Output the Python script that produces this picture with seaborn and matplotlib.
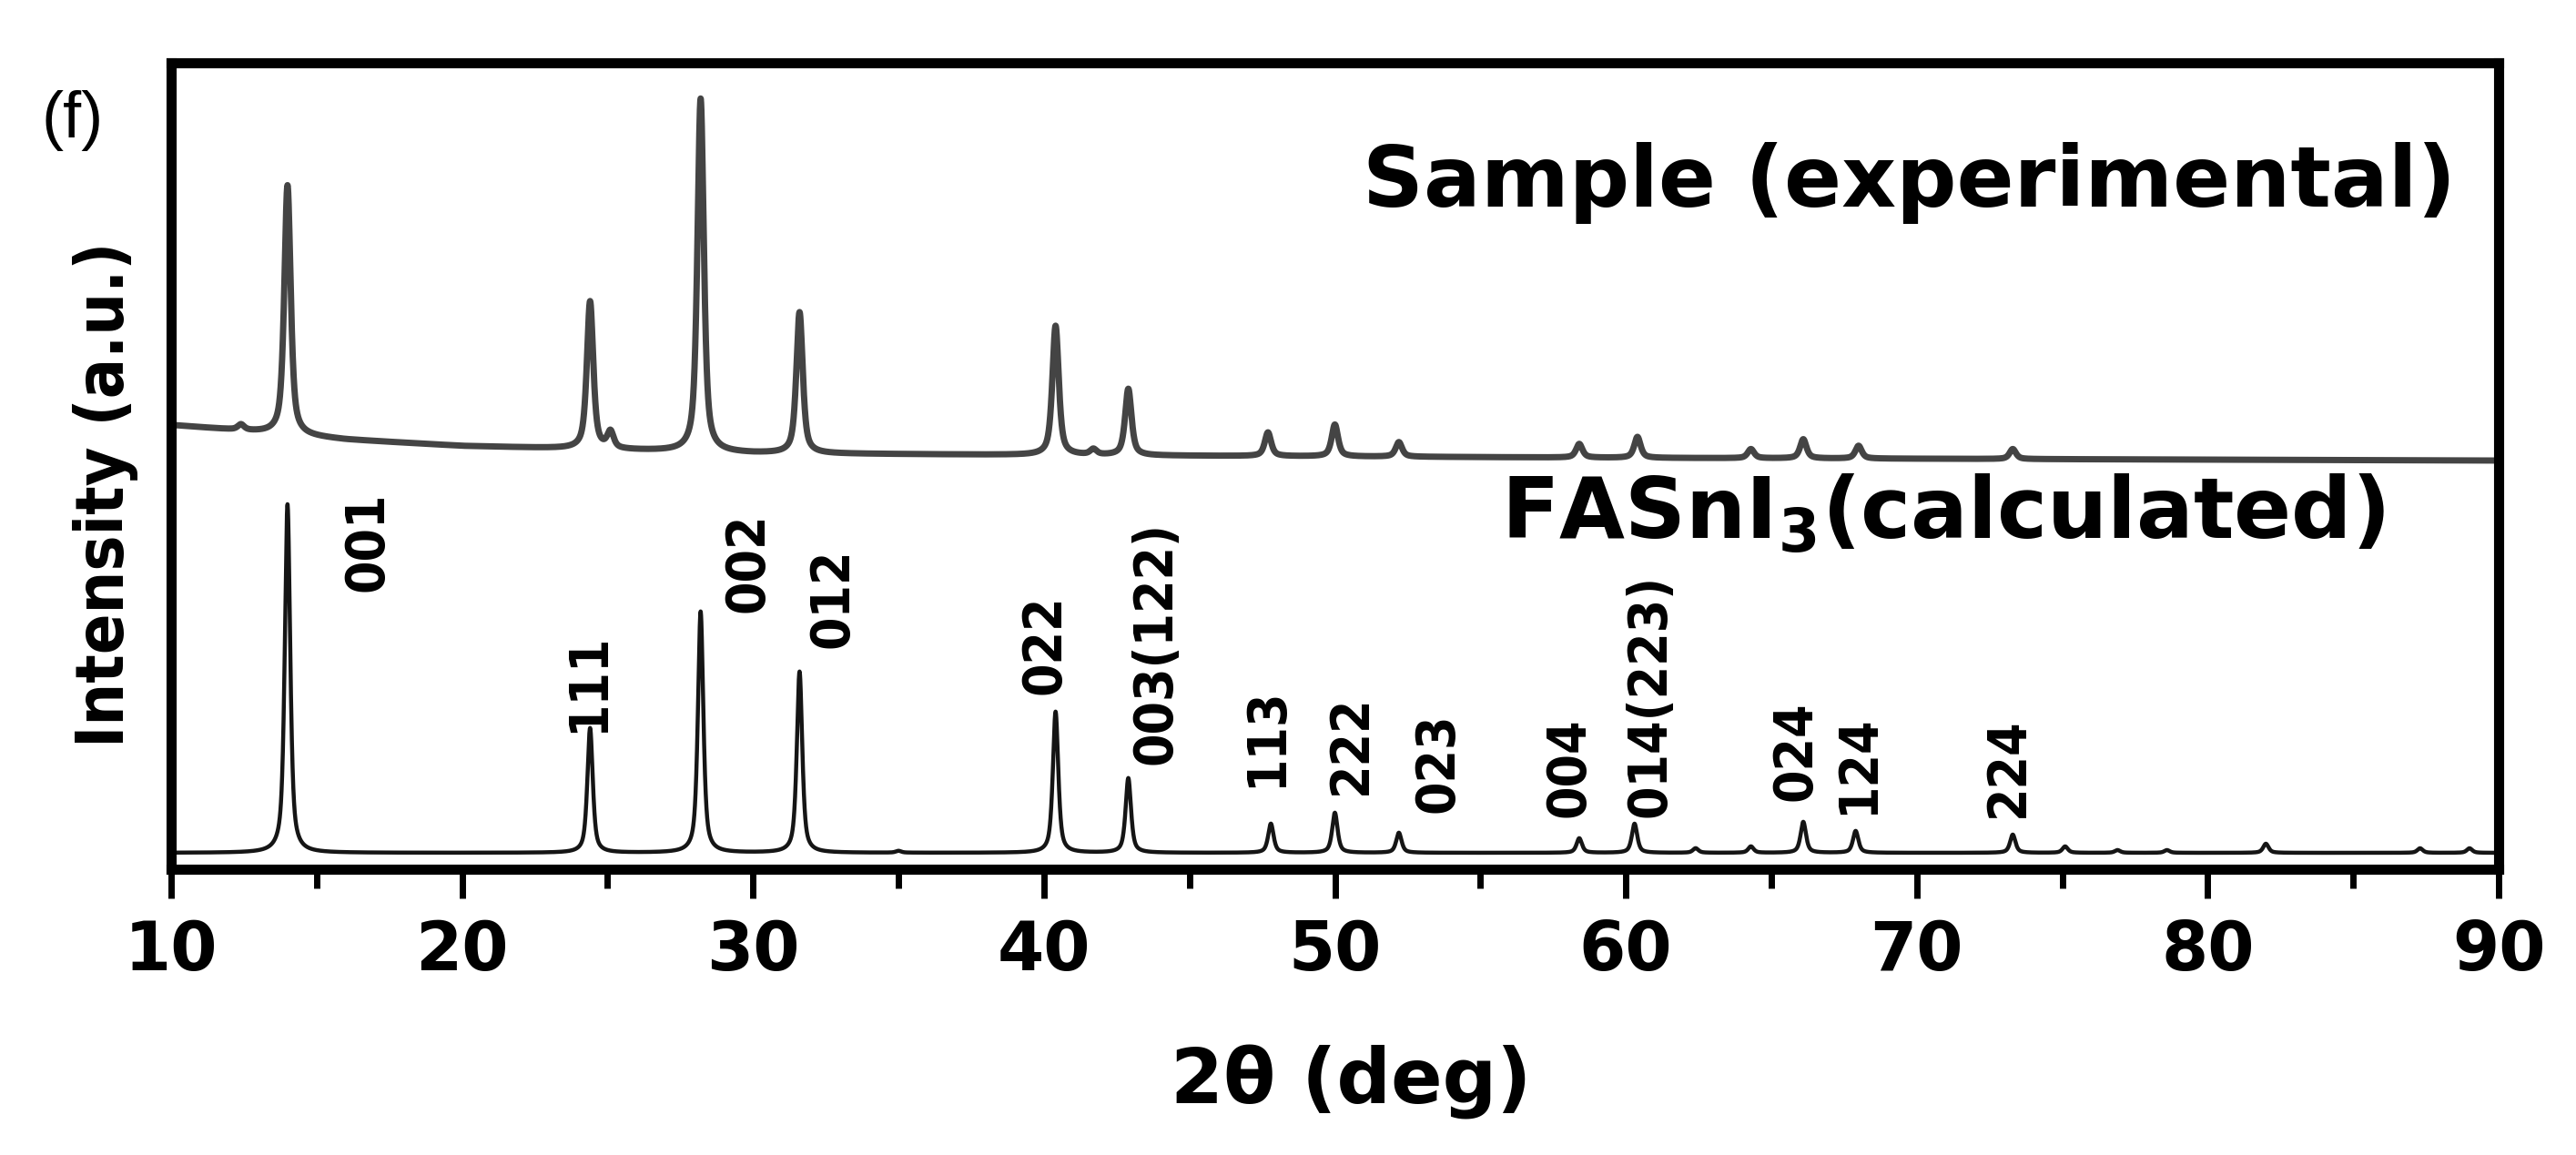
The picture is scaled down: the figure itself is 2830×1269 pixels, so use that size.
import os
import numpy as np
import pandas as pd
import seaborn as sns
import matplotlib.pyplot as plt
from matplotlib import font_manager
from matplotlib.textpath import TextPath
from matplotlib.ticker import MultipleLocator

# Calculated FASnI3 pattern: peak positions (deg), heights (a.u.)
calc_pos = [14.0, 24.4, 28.2, 31.6, 35.0, 40.4, 42.9, 47.8, 50.0, 52.2, 58.4, 60.3,
            62.4, 64.3, 66.1, 67.9, 73.3, 75.1, 76.9, 78.6, 82.0, 87.3, 89.0]
calc_height = [383, 137, 265, 199, 2, 155, 82, 32, 44, 22, 16, 32,
               5, 7, 34, 24, 20, 7, 3, 3, 10, 5, 5]
calc_baseline = 18

# Experimental sample pattern
exp_pos = [12.4, 14.0, 24.4, 25.1, 28.2, 31.6, 40.4, 41.7, 42.9, 47.7, 50.0, 52.2,
           58.4, 60.4, 64.3, 66.1, 68.0, 73.3]
exp_height = [6, 274, 162, 18, 388, 155, 142, 6, 73, 26, 35, 16,
              15, 23, 10, 21, 14, 11]
exp_bg_x = [10, 12, 16, 20, 25, 30, 40, 60, 90]
exp_bg_y = [488, 483, 472, 465, 461, 457, 455, 452, 449]

# hkl labels
hkl_labels = ['001', '111', '002', '012', '022', '003(122)', '113', '222', '023',
              '004', '014(223)', '024', '124', '224']
hkl_x = [16.5, 24.1, 29.6, 32.5, 39.8, 43.6, 47.4, 50.3, 53.3, 57.8, 60.6, 65.6, 67.75, 72.9]
hkl_y = [305, 150, 282, 243, 192, 115, 90, 82, 62, 57, 57, 75, 60, 57]

x_ticks = [10, 20, 30, 40, 50, 60, 70, 80, 90]


def pattern(x, pos, height, fwhm, eta=0.65):
    y = np.zeros_like(x)
    for p, h in zip(pos, height):
        d = (x - p) / (fwhm / 2)
        y += h * (eta / (1 + d ** 2) + (1 - eta) * np.exp(-np.log(2) * d ** 2))
    return y


def narrow_bold():
    # the rotated labels in the figure are set in a condensed bold face
    prefs = ['LiberationSansNarrow-Bold.', 'DejaVuSansCondensed-Bold.',
             'NotoSans-CondensedBold.', 'RobotoCondensed-Bold.', 'OpenSans-CondensedBold.']
    files = [f.fname for f in font_manager.fontManager.ttflist]
    for p in prefs:
        for fn in files:
            if os.path.basename(fn).startswith(p):
                return font_manager.FontProperties(fname=fn)
    return font_manager.FontProperties(family='Liberation Sans', weight='bold')


def fit_size(text, prop, length_px):
    w = TextPath((0, 0), text, size=100, prop=prop).get_extents().width
    return 100 * length_px * 0.72 / w


two_theta = np.linspace(10, 90, 16001)
calc = calc_baseline + pattern(two_theta, calc_pos, calc_height, 0.22)
exp = np.interp(two_theta, exp_bg_x, exp_bg_y) + pattern(two_theta, exp_pos, exp_height, 0.26)

df_calc = pd.DataFrame({'two_theta': two_theta, 'intensity': calc})
df_exp = pd.DataFrame({'two_theta': two_theta, 'intensity': exp})

sns.set_style('ticks')
plt.rcParams['font.family'] = ['DejaVu Sans']
plt.rcParams['mathtext.fontset'] = 'dejavusans'
plt.rcParams['text.color'] = 'black'
plt.rcParams['axes.labelcolor'] = 'black'
plt.rcParams['xtick.color'] = 'black'

rot_prop = narrow_bold()
hkl_fs = (fit_size('001', rot_prop, 103) + fit_size('003(122)', rot_prop, 262)) / 2
ylab_fs = fit_size('Intensity (a.u.)', rot_prop, 544)
hkl_prop = rot_prop.copy()
hkl_prop.set_size(hkl_fs)
ylab_prop = rot_prop.copy()
ylab_prop.set_size(ylab_fs)

fig = plt.figure(figsize=(28.3, 12.69), dpi=100)
ax = fig.add_axes([188 / 2830, 1 - 955 / 1269, 2557 / 2830, 886 / 1269])

sns.lineplot(data=df_exp, x='two_theta', y='intensity', color='#444444',
             linewidth=5, estimator=None, sort=False, ax=ax)
sns.lineplot(data=df_calc, x='two_theta', y='intensity', color='#151515',
             linewidth=3.2, estimator=None, sort=False, ax=ax)

ax.set_xlim(10, 90)
ax.set_ylim(0, 886)
ax.set_yticks([])
ax.set_xticks(x_ticks)
ax.xaxis.set_minor_locator(MultipleLocator(5))
ax.tick_params(axis='x', which='major', direction='out', length=23, width=5,
               pad=16, labelsize=53, colors='black')
ax.tick_params(axis='x', which='minor', direction='out', length=15, width=5)
for lab in ax.get_xticklabels():
    lab.set_fontweight('bold')

for side in ['left', 'right', 'top', 'bottom']:
    ax.spines[side].set_linewidth(8)
    ax.spines[side].set_color('black')

ax.set_xlabel('2θ (deg)', fontsize=60, fontweight='bold')
ax.xaxis.set_label_coords(0.507, -0.218)
ax.set_ylabel('Intensity (a.u.)', fontproperties=ylab_prop)
ax.yaxis.set_label_coords(-0.0141, 0.465)

for txt, xp, yp in zip(hkl_labels, hkl_x, hkl_y):
    ax.text(xp + 0.25, yp, txt, rotation=90, ha='center', va='bottom',
            fontproperties=hkl_prop)

ax.text(0.9815, 0.8217, 'Sample (experimental)', transform=ax.transAxes,
        ha='right', va='baseline', fontsize=67, fontweight='bold')
ax.text(0.951, 0.410, r'FASnI$_\mathbf{3}$(calculated)', transform=ax.transAxes,
        ha='right', va='baseline', fontsize=67, fontweight='bold')

fig.text(80 / 2830, 1 - 132 / 1269, '(f)', ha='center', va='center',
         fontsize=52, family='Liberation Sans')

fig.savefig('out.png', dpi=100, facecolor='white')
